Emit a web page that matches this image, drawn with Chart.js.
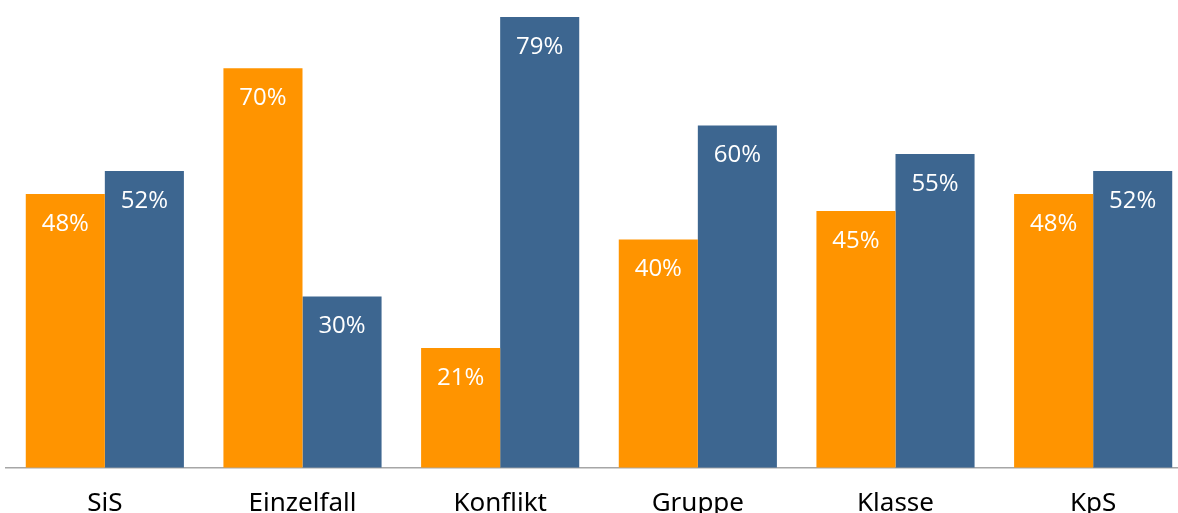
<!DOCTYPE html>
<html>
<head>
<meta charset="utf-8">
<script src="https://cdn.jsdelivr.net/npm/chart.js@4"></script>
<style>
  html, body { margin: 0; padding: 0; background: #fff; overflow: hidden; }
  #wrap { width: 1192px; height: 544px; }
</style>
</head>
<body>
<div id="wrap"><canvas id="barChart"></canvas></div>
<script>
// categories and the two series (percent)
const categories = ['SiS', 'Einzelfall', 'Konflikt', 'Gruppe', 'Klasse', 'KpS'];
const orangeValues = [48, 70, 21, 40, 45, 48];
const blueValues = [52, 30, 79, 60, 55, 52];

const ORANGE = '#FF9400';
const BLUE = '#3D6690';

// white percent labels inside the top of each bar
const barLabels = {
    id: 'barLabels',
    afterDatasetsDraw(chart) {
        const ctx = chart.ctx;
        ctx.save();
        ctx.fillStyle = '#ffffff';
        ctx.font = '24px "Open Sans", "Noto Sans", sans-serif';
        ctx.textAlign = 'center';
        ctx.textBaseline = 'middle';
        chart.data.datasets.forEach((ds, i) => {
            chart.getDatasetMeta(i).data.forEach((bar, j) => {
                ctx.fillText(ds.data[j] + '%', bar.x, bar.y + 30);
            });
        });
        ctx.restore();
    }
};

new Chart(document.getElementById('barChart'), {
    type: 'bar',
    data: {
        labels: categories,
        datasets: [
            { data: orangeValues, backgroundColor: ORANGE },
            { data: blueValues, backgroundColor: BLUE }
        ]
    },
    options: {
        responsive: true,
        maintainAspectRatio: false,
        animation: false,
        events: [],
        layout: { padding: { left: 6, top: 17, right: 0, bottom: 5 } },
        datasets: { bar: { categoryPercentage: 0.8, barPercentage: 1.0 } },
        plugins: { legend: { display: false }, tooltip: { enabled: false } },
        scales: {
            x: {
                grid: { display: false, drawTicks: false },
                border: { display: true, color: '#a6a6a6', width: 1.5 },
                ticks: {
                    color: '#000000',
                    padding: 20,
                    font: { family: '"Noto Sans", sans-serif', size: 26 }
                }
            },
            y: {
                display: false,
                min: 0,
                max: 79
            }
        }
    },
    plugins: [barLabels]
});
</script>
</body>
</html>
